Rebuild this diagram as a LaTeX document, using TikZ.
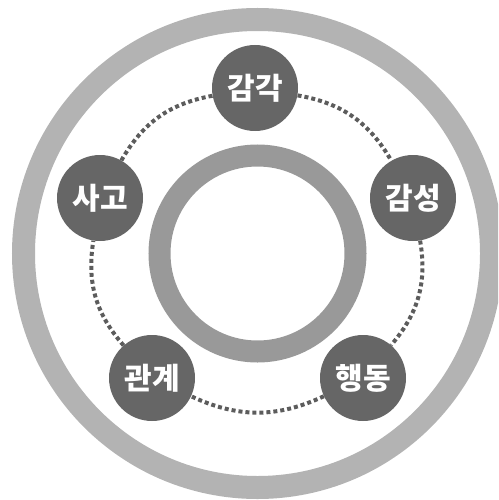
\documentclass[tikz,border=0pt]{standalone}
\usepackage{fontspec}
\newfontfamily\krfont{Noto Sans CJK KR}
\definecolor{ringlight}{HTML}{B3B3B3}
\definecolor{ringmid}{HTML}{999999}
\definecolor{nodegray}{HTML}{666666}
\begin{document}
\begin{tikzpicture}[x=1pt, y=-1pt,
    stage/.style={circle, fill=nodegray, text=white, minimum size=86pt, inner sep=0pt,
      font=\krfont\bfseries\fontsize{30}{34}\selectfont},
    link/.style={draw=nodegray!90!black, line width=4pt, dash pattern=on 4pt off 3pt}]
  \useasboundingbox (0,0) rectangle (498,500);
  \clip (0,0) rectangle (498,500);
  \coordinate (center) at (257.5,253.5);
  % rings
  \draw[ringlight, line width=23pt] (center) circle[radius=234pt];
  \draw[ringmid, line width=22pt] (center) circle[radius=98pt];
  % stages
  \foreach \name/\x/\y/\txt in {
      sense/255/88/감각, feel/413/198/감성, act/363/378/행동,
      rel/152/378/관계, think/100/198/사고} {
    \node[stage] (\name) at (\x,\y) {\txt};
  }
  \foreach \a/\b in {sense/feel, feel/act, act/rel, rel/think, think/sense}
    \draw[link] (\a) to[bend left=25] (\b);
\end{tikzpicture}
\end{document}
